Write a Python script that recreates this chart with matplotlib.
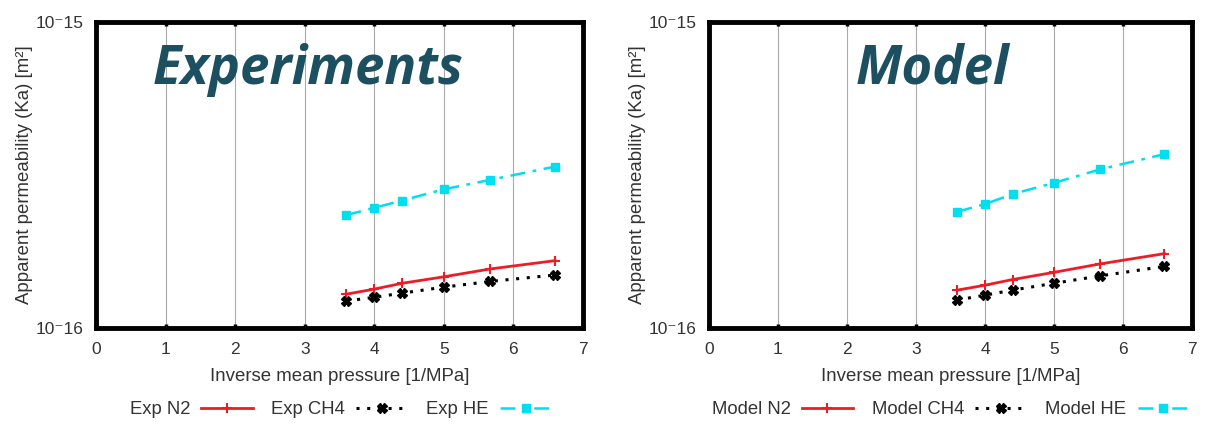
import matplotlib
matplotlib.use("Agg")
import matplotlib.pyplot as plt
from matplotlib.ticker import NullLocator, FixedLocator

# ---- data ----
x_vals = [3.6, 4.0, 4.4, 5.0, 5.67, 6.6]
exp_n2 = [1.29e-16, 1.34e-16, 1.40e-16, 1.47e-16, 1.56e-16, 1.66e-16]
exp_ch4 = [1.225e-16, 1.26e-16, 1.30e-16, 1.36e-16, 1.42e-16, 1.49e-16]
exp_he = [2.34e-16, 2.47e-16, 2.61e-16, 2.84e-16, 3.05e-16, 3.37e-16]
model_n2 = [1.33e-16, 1.38e-16, 1.44e-16, 1.52e-16, 1.62e-16, 1.75e-16]
model_ch4 = [1.235e-16, 1.28e-16, 1.33e-16, 1.40e-16, 1.48e-16, 1.59e-16]
model_he = [2.40e-16, 2.54e-16, 2.74e-16, 2.98e-16, 3.30e-16, 3.70e-16]

xticks = [0, 1, 2, 3, 4, 5, 6, 7]
yticks = [1e-16, 1e-15]
ytick_labels = ["10\u207b16", "10\u207b15"]
xlabel = "Inverse mean pressure [1/MPa]"
ylabel = "Apparent permeability (Ka) [m\u00b2]"

plt.rcParams['font.family'] = ['Liberation Sans', 'DejaVu Sans']

fig = plt.figure(figsize=(12.08, 4.24), dpi=100)
W, H = 1208, 424

panels = [
    dict(left=96, right=583, title="Experiments", title_x=308,
         prefix="Exp", n2=exp_n2, ch4=exp_ch4, he=exp_he, leg_x=113),
    dict(left=709, right=1192, title="Model", title_x=932,
         prefix="Model", n2=model_n2, ch4=model_ch4, he=model_he, leg_x=695),
]

top, bottom = 22, 328
RED = '#ee1c25'
CYAN = '#00dfee'

for p in panels:
    ax = fig.add_axes([p['left'] / W, 1 - bottom / H,
                       (p['right'] - p['left']) / W, (bottom - top) / H])
    ax.set_yscale('log')
    ax.set_xlim(0, 7)
    ax.set_ylim(1e-16, 1e-15)
    ax.xaxis.set_major_locator(FixedLocator(xticks))
    ax.yaxis.set_major_locator(FixedLocator(yticks))
    ax.yaxis.set_minor_locator(NullLocator())
    ax.set_yticklabels(ytick_labels)
    ax.tick_params(axis='both', labelsize=12.5, colors='black', labelcolor='#333333')
    ax.tick_params(axis='x', direction='in', top=True, length=3, width=2.5, pad=10)
    ax.tick_params(axis='y', direction='in', length=0, pad=9)
    for s in ax.spines.values():
        s.set_linewidth(3.5)
        s.set_color('black')
    ax.grid(True, axis='x', color='#aaaaaa', linewidth=0.8)
    ax.set_axisbelow(True)

    l1, = ax.plot(x_vals, p['n2'], color=RED, linestyle='-', linewidth=2,
                  marker='+', markersize=7, markeredgewidth=1.5,
                  label=p['prefix'] + " N2")
    l2, = ax.plot(x_vals, p['ch4'], color='black', linestyle=(0, (1, 2.5)),
                  linewidth=2.2, marker='X', markersize=7,
                  label=p['prefix'] + " CH4")
    l3, = ax.plot(x_vals, p['he'], color=CYAN, linestyle=(0, (6, 3, 1.5, 3)),
                  linewidth=1.8, marker='s', markersize=6,
                  label=p['prefix'] + " HE")

    ax.set_xlabel(xlabel, fontsize=13.4, color='#333333', labelpad=8)
    ax.set_ylabel(ylabel, fontsize=13.4, color='#333333', labelpad=2)

    fig.text(p['title_x'] / W, 1 - 70 / H, p['title'], fontsize=38,
             fontweight='bold', fontstyle='italic', family='Open Sans',
             color='#1c5060', ha='center', va='center')

    fig.legend(handles=[l1, l2, l3], loc='center left',
               bbox_to_anchor=(p['leg_x'] / W, 1 - 410 / H), ncol=3,
               frameon=False, markerfirst=False, fontsize=13.3,
               handlelength=2.8, columnspacing=1.0, handletextpad=0.6,
               labelcolor='#333333')

fig.savefig("out.png", dpi=100, facecolor='white')
